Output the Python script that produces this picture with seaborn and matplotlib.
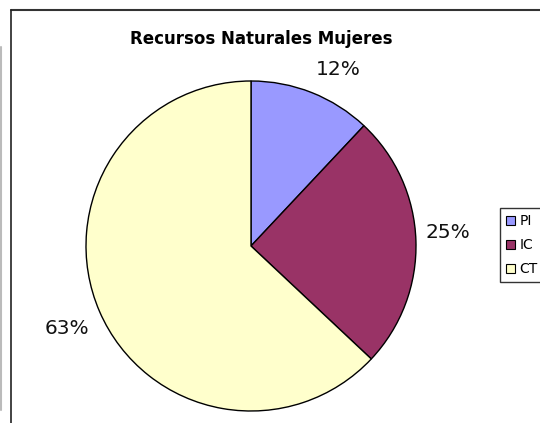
import matplotlib
matplotlib.use("Agg")
import matplotlib.pyplot as plt
import seaborn as sns
from matplotlib.lines import Line2D

sns.set_theme(style="white")
plt.rcParams['font.family'] = ['DejaVu Sans']
plt.rcParams['text.color'] = 'black'

# Data
categories = ['PI', 'IC', 'CT']
shares = [12, 25, 63]
slice_colors = ['#9999FF', '#993366', '#FFFFCC']
pct_labels = ['12%', '25%', '63%']

# label positions in pie units (radius = 1)
label_pos = [(0.527, 1.067), (1.194, 0.079), (-1.115, -0.497)]

fig = plt.figure(figsize=(5.4, 4.23), dpi=100)
fig.patch.set_facecolor('white')

# pie axes: 330px square centred at (251, 246) from top-left
ax = fig.add_axes([86 / 540, (423 - 411) / 423, 330 / 540, 330 / 423])

wedges, _ = ax.pie(
    shares,
    colors=slice_colors,
    startangle=90,
    counterclock=False,
    radius=1,
    wedgeprops=dict(edgecolor='black', linewidth=1.0)
)
ax.set_xlim(-1, 1)
ax.set_ylim(-1, 1)
ax.set_aspect('auto')
ax.axis('off')

for txt, (x, y) in zip(pct_labels, label_pos):
    ax.text(x, y, txt, ha='center', va='center', fontsize=14.5,
            color='#111111', clip_on=False)

fig.text(261 / 540, 1 - 39 / 423, "Recursos Naturales Mujeres",
         ha='center', va='center', fontsize=12, fontweight='bold',
         color='black')

# legend (box runs past the right edge, as in the source)
leg = fig.legend(
    wedges, categories,
    loc='upper left',
    mode='expand',
    bbox_to_anchor=(500 / 540, 1 - 280 / 423, 70 / 540, 72 / 423),
    frameon=True,
    fancybox=False,
    fontsize=10,
    handlelength=0.65,
    handleheight=0.65,
    handletextpad=0.3,
    labelspacing=0.72,
    borderpad=0.45,
    borderaxespad=0
)
leg.get_frame().set_edgecolor('black')
leg.get_frame().set_linewidth(1.0)
for h in leg.legend_handles:
    h.set_edgecolor('black')
    h.set_linewidth(0.8)
for t in leg.get_texts():
    t.set_color('black')

# chart frame (cropped at right and bottom)
fig.add_artist(Line2D([10.5 / 540, 1], [1 - 10.5 / 423, 1 - 10.5 / 423],
                      color='#333333', linewidth=1.5))
fig.add_artist(Line2D([10.5 / 540, 10.5 / 540], [0, 1 - 10.5 / 423],
                      color='#222222', linewidth=1.2))
fig.add_artist(Line2D([1.0 / 540, 1.0 / 540], [1 - 410 / 423, 1 - 47 / 423],
                      color='#BBBBBB', linewidth=1.5))

fig.savefig("out.png", dpi=100, facecolor='white')
